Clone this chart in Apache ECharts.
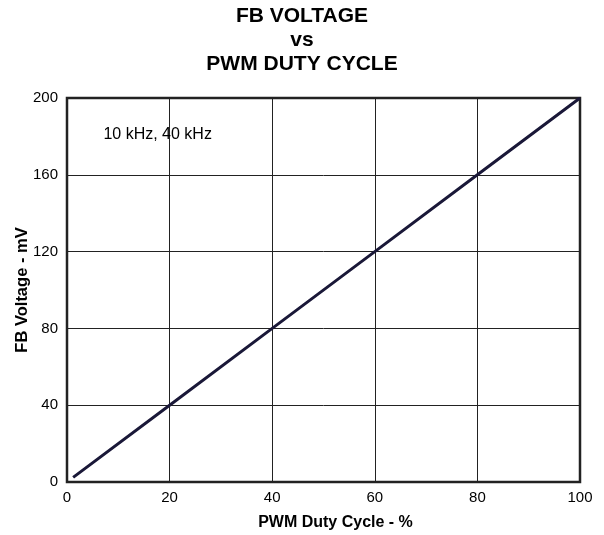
<!DOCTYPE html>
<html><head><meta charset="utf-8">
<script src="https://cdn.jsdelivr.net/npm/echarts@6/dist/echarts.min.js"></script>
<style>html,body{margin:0;padding:0;background:#fff}#c{width:604px;height:535px}</style>
</head><body><div id="c"></div>
<script>
const duty = [1.2, 20, 40, 60, 80, 100];
const fbVoltage = [2.4, 40, 80, 120, 160, 200];
const xTicks = [0, 20, 40, 60, 80, 100];
const yTicks = [0, 40, 80, 120, 160, 200];
const annotation = '10 kHz, 40 kHz';

const chart = echarts.init(document.getElementById('c'));
const font = '"Liberation Sans", Arial, sans-serif';
chart.setOption({
  animation: false,
  title: {
    text: 'FB VOLTAGE\nvs\nPWM DUTY CYCLE',
    left: 'center', top: -1,
    textStyle: { fontFamily: font, fontWeight: 'bold', fontSize: 21, lineHeight: 24, color: '#000' }
  },
  grid: { left: 67, right: 24, top: 98, bottom: 53, outerBoundsMode: 'none', containLabel: false },
  xAxis: {
    type: 'value', min: 0, max: 100, interval: 20,
    name: 'PWM Duty Cycle - %', nameLocation: 'middle', nameGap: 31, nameMoveOverlap: false,
    nameTextStyle: { fontFamily: font, fontWeight: 'bold', fontSize: 16, color: '#000', padding: [2, 0, 0, 24] },
    axisLine: { show: false },
    axisTick: { show: false },
    axisLabel: { fontFamily: font, fontSize: 15, color: '#000', margin: 8 },
    splitLine: { show: true, lineStyle: { color: '#222', width: 1 } }
  },
  yAxis: {
    type: 'value', min: 0, max: 200, interval: 40,
    name: 'FB Voltage - mV', nameLocation: 'middle', nameGap: 36, nameMoveOverlap: false,
    nameTextStyle: { fontFamily: font, fontWeight: 'bold', fontSize: 16.5, color: '#000' },
    axisLine: { show: false },
    axisTick: { show: false },
    axisLabel: { fontFamily: font, fontSize: 15, color: '#000', margin: 9 },
    splitLine: { show: true, lineStyle: { color: '#222', width: 1 } }
  },
  series: [
    {
      type: 'line', data: duty.map((d, i) => [d, fbVoltage[i]]),
      symbol: 'none', lineStyle: { color: '#1a1838', width: 3 }, z: 3
    },
    {
      type: 'line', data: [], silent: true,
      markArea: {
        silent: true,
        itemStyle: { color: 'rgba(0,0,0,0)', borderColor: '#222', borderWidth: 2.5 },
        data: [[{ coord: [0, 0] }, { coord: [100, 200] }]]
      },
      markPoint: {
        symbol: 'rect', symbolSize: 1, silent: true,
        itemStyle: { color: 'rgba(0,0,0,0)' },
        label: { show: true, position: 'right', formatter: annotation, fontFamily: font, fontSize: 16, color: '#000', distance: 0 },
        data: [{ coord: [7, 181] }]
      }
    }
  ]
});
</script></body></html>
